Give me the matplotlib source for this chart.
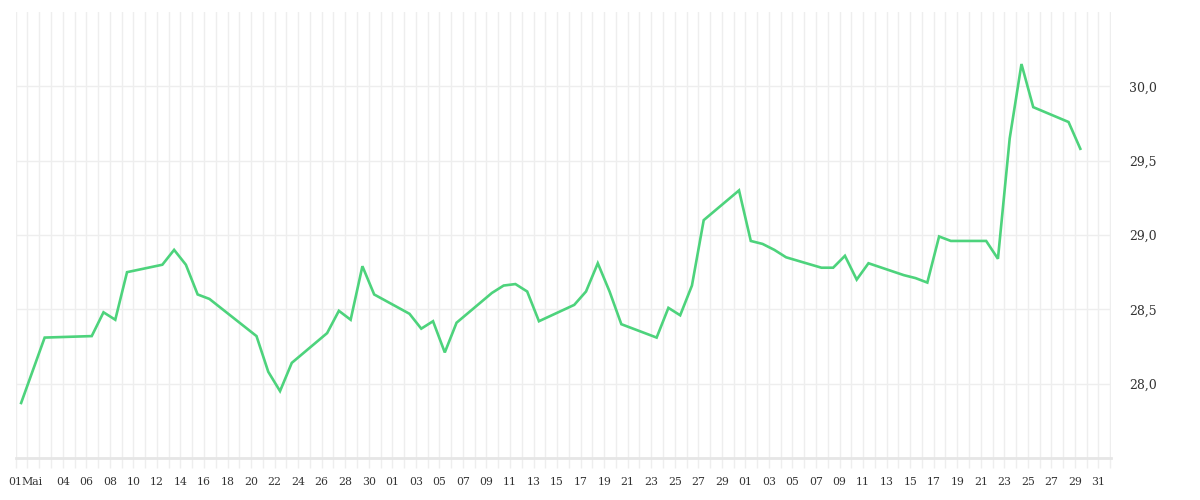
import matplotlib
matplotlib.use("Agg")
import matplotlib.pyplot as plt
import matplotlib.dates as mdates
import pandas as pd

dates = [
    "2025-04-30", "2025-05-02", "2025-05-06", "2025-05-07", "2025-05-08", "2025-05-09",
    "2025-05-12", "2025-05-13", "2025-05-14", "2025-05-15", "2025-05-16",
    "2025-05-20", "2025-05-21", "2025-05-22", "2025-05-23",
    "2025-05-26", "2025-05-27", "2025-05-28", "2025-05-29", "2025-05-30",
    "2025-06-02", "2025-06-03", "2025-06-04", "2025-06-05", "2025-06-06",
    "2025-06-09", "2025-06-10", "2025-06-11", "2025-06-12", "2025-06-13",
    "2025-06-16", "2025-06-17", "2025-06-18", "2025-06-19", "2025-06-20",
    "2025-06-23", "2025-06-24", "2025-06-25", "2025-06-26", "2025-06-27",
    "2025-06-30", "2025-07-01", "2025-07-02", "2025-07-03", "2025-07-04",
    "2025-07-07", "2025-07-08", "2025-07-09", "2025-07-10", "2025-07-11",
    "2025-07-14", "2025-07-15", "2025-07-16", "2025-07-17", "2025-07-18",
    "2025-07-21", "2025-07-22", "2025-07-23", "2025-07-24", "2025-07-25",
    "2025-07-28", "2025-07-29",
]
values = [
    27.87, 28.31, 28.32, 28.48, 28.43, 28.75,
    28.80, 28.90, 28.80, 28.60, 28.57,
    28.32, 28.08, 27.95, 28.14,
    28.34, 28.49, 28.43, 28.79, 28.60,
    28.47, 28.37, 28.42, 28.21, 28.41,
    28.61, 28.66, 28.67, 28.62, 28.42,
    28.53, 28.62, 28.81, 28.62, 28.40,
    28.31, 28.51, 28.46, 28.66, 29.10,
    29.30, 28.96, 28.94, 28.90, 28.85,
    28.78, 28.78, 28.86, 28.70, 28.81,
    28.73, 28.71, 28.68, 28.99, 28.96,
    28.96, 28.84, 29.65, 30.15, 29.86,
    29.76, 29.58,
]

y_ticks = [28.0, 28.5, 29.0, 29.5, 30.0]
y_tick_labels = ["28,0", "28,5", "29,0", "29,5", "30,0"]

x_label_dates = (["2025-04-30 00:00", "2025-05-01 10:00"]
                 + [f"2025-05-{d:02d} 00:00" for d in range(4, 31, 2)]
                 + [f"2025-06-{d:02d} 00:00" for d in range(1, 30, 2)]
                 + [f"2025-07-{d:02d} 00:00" for d in range(1, 32, 2)])
x_label_texts = (["01", "Mai"]
                 + [f"{d:02d}" for d in range(4, 31, 2)]
                 + [f"{d:02d}" for d in range(1, 30, 2)]
                 + [f"{d:02d}" for d in range(1, 32, 2)])

x = pd.to_datetime(dates) + pd.Timedelta(hours=11)

fig = plt.figure(figsize=(12, 5), dpi=100)
ax = fig.add_axes([0.0131, 0.084, 0.9125, 0.892])

ax.plot(x, values, color="#4dd37c", linewidth=1.9, solid_joinstyle="miter", zorder=3)

ax.set_xlim(pd.Timestamp("2025-04-30"), pd.Timestamp("2025-08-01 01:00"))
ax.set_ylim(27.5, 30.5)

# daily grid and ticks
ax.xaxis.remove_overlapping_locs = False
ax.xaxis.set_minor_locator(mdates.DayLocator())
ax.grid(which="minor", axis="x", color="#eeeeee", linewidth=1.0)
ax.tick_params(axis="x", which="minor", length=7.5, width=1.0, color="#eeeeee", direction="out")

ax.set_xticks(pd.to_datetime(x_label_dates, format="%Y-%m-%d %H:%M"))
ax.set_xticklabels(x_label_texts)
ax.tick_params(axis="x", which="major", length=0, pad=14, labelsize=7.8, labelcolor="#333333")
for lab in ax.get_xticklabels():
    lab.set_family("DejaVu Serif")

ax.yaxis.tick_right()
ax.set_yticks(y_ticks)
ax.set_yticklabels(y_tick_labels)
ax.tick_params(axis="y", which="major", length=0, pad=13, labelsize=9, labelcolor="#333333")
for lab in ax.get_yticklabels():
    lab.set_family("DejaVu Serif")
ax.grid(which="major", axis="y", color="#eeeeee", linewidth=1.0)

for s in ["top", "left", "right"]:
    ax.spines[s].set_visible(False)
ax.spines["bottom"].set_color("#e6e6e6")
ax.spines["bottom"].set_linewidth(2.0)
ax.set_axisbelow(True)

fig.savefig("out.png", dpi=100)
